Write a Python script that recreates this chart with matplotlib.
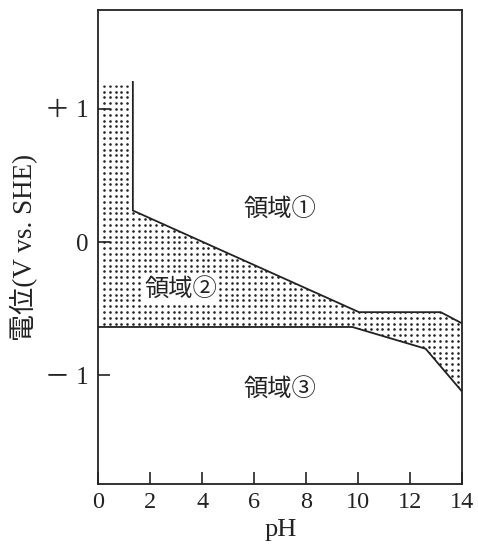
import numpy as np
import matplotlib
matplotlib.use('Agg')
import matplotlib.pyplot as plt
from matplotlib.patches import Polygon

plt.rcParams['font.family'] = ['Liberation Serif', 'Noto Sans CJK JP']
plt.rcParams['axes.unicode_minus'] = True

# 境界線のデータ（pH, 電位 V）
upper_ph = [1.33, 1.33, 10.03, 13.17, 14.0]
upper_e = [1.20, 0.236, -0.526, -0.526, -0.611]
lower_ph = [0.0, 9.77, 12.59, 14.0]
lower_e = [-0.637, -0.637, -0.80, -1.123]
fill_top_e = 1.174

# 領域ラベル
region_labels = ['領域①', '領域②', '領域③']
region_ph = [7.0, 3.17, 7.0]
region_e = [0.244, -0.353, -1.105]

x_ticks = [0, 2, 4, 6, 8, 10, 12, 14]
y_ticks = [1, 0, -1]
y_tick_labels = ['＋ 1', '0', '－ 1']

line_color = '#222222'

fig = plt.figure(figsize=(4.78, 5.56), dpi=100)
ax = fig.add_axes([0.2056, 0.1295, 0.7615, 0.8525])

ax.set_xlim(0, 14)
ax.set_ylim(-1.814, 1.739)

# 領域②の多角形（点描）
poly_pts = [(0.0, fill_top_e), (upper_ph[0], fill_top_e)]
poly_pts += list(zip(upper_ph[1:], upper_e[1:]))
poly_pts += list(zip(lower_ph[::-1], lower_e[::-1]))
region2 = Polygon(poly_pts, closed=True, facecolor='none', edgecolor='none')
ax.add_patch(region2)

gx, gy = np.meshgrid(np.arange(0.22, 14.0, 0.223), 0.432 + np.arange(-70, 30) * 0.0435)
dots = ax.scatter(gx.ravel(), gy.ravel(), s=3.5, color=line_color, linewidths=0, zorder=2)
dots.set_clip_path(region2)

# 境界線
ax.plot(upper_ph, upper_e, color=line_color, lw=1.3, zorder=3)
ax.plot(lower_ph, lower_e, color=line_color, lw=1.3, zorder=3)

for lab, xp, yp in zip(region_labels, region_ph, region_e):
    ax.text(xp, yp, lab, ha='center', va='center', fontsize=17.5, color=line_color,
            zorder=4, bbox=dict(facecolor='white', edgecolor='none', pad=1.0))

ax.set_xticks(x_ticks)
ax.set_yticks(y_ticks)
ax.set_yticklabels(y_tick_labels)
ax.tick_params(direction='in', length=8.6, width=1.2, colors=line_color,
               labelsize=17.5, pad=6, top=False, right=False)
ax.tick_params(axis='y', labelsize=18, pad=7)
for sp in ax.spines.values():
    sp.set_linewidth(1.3)
    sp.set_color(line_color)

ax.set_xlabel('pH', fontsize=19, labelpad=4, color=line_color)
ax.set_ylabel('電位(V vs. SHE)', fontsize=19.5, labelpad=5, color=line_color)

fig.savefig('out.png', dpi=100)
